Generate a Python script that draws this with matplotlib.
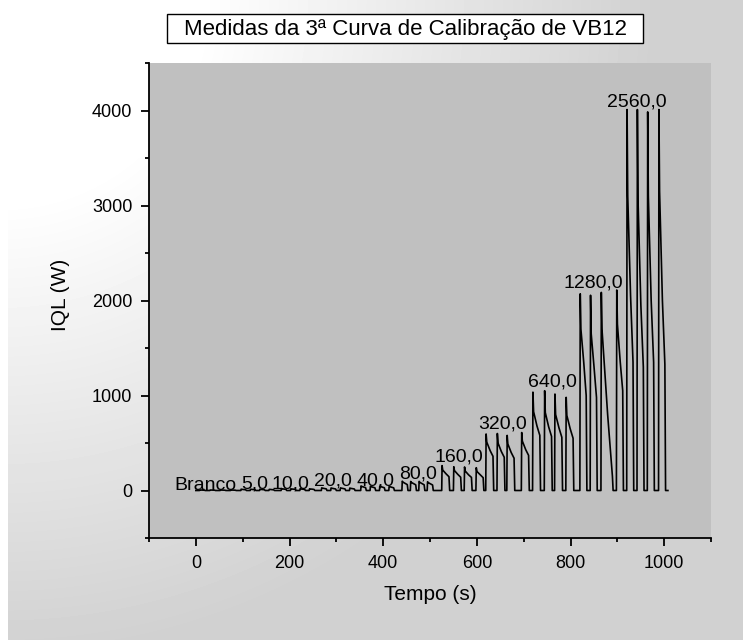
import numpy as np
import matplotlib.pyplot as plt
from matplotlib.patches import Rectangle
from matplotlib.ticker import MultipleLocator

plt.rcParams['font.family'] = ['Liberation Sans', 'DejaVu Sans']

# concentration labels of each injection group
groups = ["Branco", "5,0", "10,0", "20,0", "40,0", "80,0",
          "160,0", "320,0", "640,0", "1280,0", "2560,0"]

# onset time (s) of every peak, per group
onsets = [[8, 30, 52, 74], [96, 116, 136, 156], [182, 202, 222, 242],
          [268, 288, 308, 328], [352, 372, 392, 412], [440, 458, 476, 494],
          [525, 550, 573, 598], [619, 643, 664, 695], [719, 744, 766, 790],
          [820, 842, 865, 898], [920, 942, 964, 988]]
# peak height, level shortly after the peak, mid-decay level and
# level just before the signal drops back (W)
peaks = [[6, 5, 6, 5], [14, 13, 14, 12], [20, 18, 19, 18], [28, 27, 28, 26],
         [48, 45, 46, 44], [98, 95, 96, 92], [262, 250, 248, 240],
         [595, 600, 580, 610], [1035, 1050, 1015, 980], [2070, 2055, 2085, 2110],
         [4010, 4010, 3985, 4010]]
mids = [[5, 5, 5, 5], [12, 12, 12, 11], [17, 16, 16, 16], [25, 24, 25, 23],
        [43, 41, 42, 40], [88, 85, 86, 83], [215, 210, 205, 200],
        [510, 500, 490, 520], [830, 820, 800, 790], [1700, 1650, 1700, 1750],
        [3100, 3050, 3100, 3150]]
lates = [[4, 4, 4, 4], [10, 10, 10, 9], [15, 14, 14, 14], [21, 20, 21, 19],
         [36, 34, 35, 33], [74, 72, 72, 70], [175, 170, 165, 165],
         [420, 410, 400, 430], [680, 670, 660, 650], [1350, 1300, 800, 1350],
         [2050, 1950, 2000, 2000]]
ends = [[3, 3, 3, 3], [8, 8, 8, 7], [12, 11, 11, 11], [17, 16, 17, 16],
        [30, 28, 29, 28], [62, 60, 60, 58], [145, 140, 138, 135],
        [360, 350, 340, 370], [580, 570, 560, 550], [1000, 980, 150, 1050],
        [1350, 1300, 1350, 1330]]
widths = [12, 12, 12, 12, 12, 13, 17, 17, 17, 15, 15]
width_extra = {(9, 2): 26}   # 1280,0 third peak decays slowly
t_end = 1008

# label anchor (left, baseline) per group
label_x = [-45, 98, 162, 253, 343, 434, 509, 602, 709, 785, 879]
label_y = [10, 25, 25, 53, 53, 130, 307, 656, 1090, 2140, 4040]

# build the trace from the listed peak values
t = [0.0]
y = [0.0]
for g in range(len(groups)):
    for k, t0 in enumerate(onsets[g]):
        w = width_extra.get((g, k), widths[g])
        t += [t0, t0 + 0.8, t0 + 2.2, t0 + w * 0.55, t0 + w - 1.5, t0 + w]
        y += [0, peaks[g][k], mids[g][k], lates[g][k], ends[g][k], 0]
t.append(t_end)
y.append(0)

W, H = 743, 642
fig = plt.figure(figsize=(W / 100, H / 100), dpi=100)
fig.patch.set_facecolor('white')

# light gradient panel behind everything
bg = fig.add_axes([0, 0, 1, 1], zorder=-5)
yy, xx = np.mgrid[0:H, 0:W]
d = np.hypot(xx, yy)
shade = 1 - 0.18 * np.clip((d - 200) / 450, 0, 1)
shade[:, :8] = 1
shade[640:, :] = 1
bg.imshow(shade, cmap='gray', vmin=0, vmax=1, aspect='auto',
          extent=[0, 1, 0, 1], interpolation='bilinear')
bg.axis('off')

ax = fig.add_axes([149 / W, 1 - 538 / H, (711 - 149) / W, (538 - 63) / H])
ax.set_facecolor('#c0c0c0')
ax.plot(t, y, color='black', lw=1.2)

for g, name in enumerate(groups):
    ax.text(label_x[g], label_y[g], name, fontsize=14, ha='left', va='baseline')

ax.set_xlim(-100, 1100)
ax.set_ylim(-500, 4500)
ax.xaxis.set_major_locator(MultipleLocator(200))
ax.xaxis.set_minor_locator(MultipleLocator(100))
ax.yaxis.set_major_locator(MultipleLocator(1000))
ax.yaxis.set_minor_locator(MultipleLocator(500))
for s in ['top', 'right']:
    ax.spines[s].set_visible(False)
for s in ['left', 'bottom']:
    ax.spines[s].set_linewidth(1.3)
ax.tick_params(which='major', direction='out', length=6, width=1.3,
               labelsize=13, pad=6)
ax.tick_params(which='minor', direction='out', length=3, width=1.3)

ax.set_xlabel("Tempo (s)", fontsize=15)
ax.set_ylabel("IQL (W)", fontsize=15)
ax.xaxis.set_label_coords(0.5, -(594 - 538) / 475)
ax.xaxis.label.set_va('center')
ax.yaxis.set_label_coords((60 - 149) / 562, (538 - 295) / 475)
ax.yaxis.label.set_va('center')

# boxed title
fig.patches.append(Rectangle((167 / W, 1 - 43 / H), (643 - 167) / W, 29 / H,
                             transform=fig.transFigure, facecolor='white',
                             edgecolor='black', lw=1.0, zorder=2))
fig.text(405 / W, 1 - 29 / H, "Medidas da 3ª Curva de Calibração de VB12",
         fontsize=16, ha='center', va='center', zorder=3)

fig.savefig("out.png", dpi=100)
